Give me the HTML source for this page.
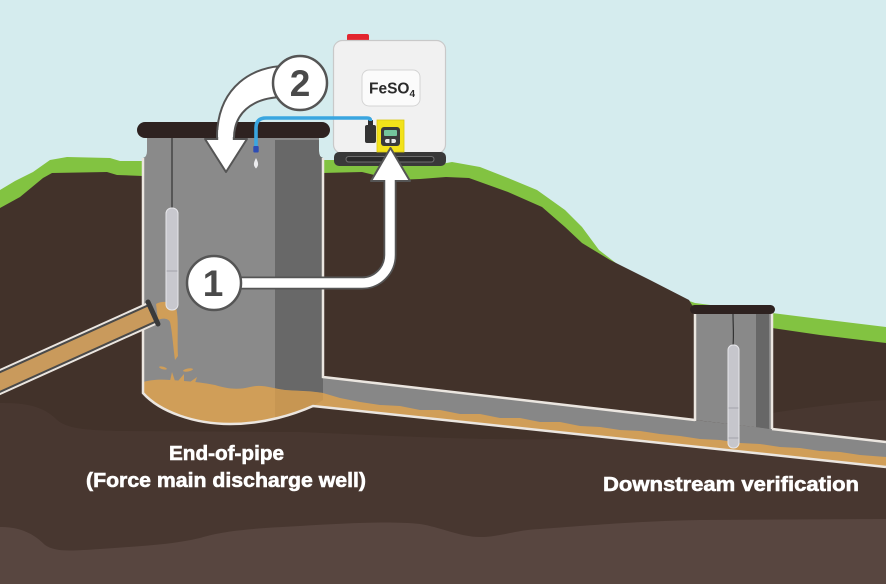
<!DOCTYPE html>
<html><head><meta charset="utf-8">
<style>
html,body{margin:0;padding:0;background:#d5ecee;}
svg{display:block;}
</style></head><body>
<svg width="886" height="584" viewBox="0 0 886 584" xmlns="http://www.w3.org/2000/svg">
<rect width="886" height="584" fill="#d5ecee"/>
<!-- grass -->
<polygon fill="#82c341" points="0,190 15,181 33,172 50,160 67,157 110,158 120,161 143,161 322,160 362,160 400,165 430,166 452,162 480,167 508,178 537,190 565,210 582,227 599,250 621,267 650,282 678,297 695,303 772,313 820,319 886,327 886,584 0,584"/>
<!-- soil -->
<polygon fill="#42322a" points="0,208 20,197 43,178 52,173 107,172 117,175 143,176 322,173 362,172 395,180 420,179 446,177 469,178 508,192 542,207 565,227 582,243 610,260 650,280 689,300 695,310 772,328 820,335 886,343 886,584 0,584"/>
<path fill="#483730" d="M0,403 C20,403 40,404 55,418 C65,428 80,430 120,431 L300,432 C400,436 500,442 600,438 C700,432 760,408 886,400 L886,584 L0,584Z"/>
<path fill="#584640" d="M0,527 C15,527 30,530 45,545 C55,552 70,551 100,549 C140,546 170,545 200,538 C220,532 240,529 300,526 C350,523 390,521 420,524 C440,527 460,537 480,537 C500,537 515,530 540,529 C580,526 640,521 700,520 L886,519 L886,584 L0,584Z"/>

<!-- outgoing sewer pipe -->
<polygon fill="#878787" points="322,377 886,442 886,467 313,406"/>

<!-- main well body -->
<path fill="#8a8a8a" d="M147,138 H319 V151 Q319,157 323,158 V400 L313,406 C295,414 265,424 230,424 C195,424 160,412 143,393 V158 Q147,157 147,151 Z"/>
<path fill="#686868" d="M275,140 H319 V151 Q319,157 323,158 V396 H275 Z"/>

<!-- downstream well body -->
<polygon fill="#898989" points="695,313 772,313 772,429 695,420"/>
<polygon fill="#676767" points="756,313 769,313 769,429 756,427"/>

<!-- sludge -->
<path fill="#d09e58" d="M143,382 C150,380 160,379 170,380 C185,381 200,382 215,385 C228,389 238,390 250,387 C262,384 270,388 285,390 C300,391 312,391 323,393 L340,398 L360,402 L380,405 L400,406 L420,410 L440,410 L460,414 L480,414 L500,418 L520,418 L540,422 L560,422 L580,426 L600,427 L620,430 L640,431 L660,434 L680,436 L700,439 L720,440 L740,443 L760,444 L780,447 L800,448 L820,451 L840,452 L860,455 L886,457 L886,467 L313,406 C295,414 265,424 230,424 C195,424 160,412 143,393 Z"/>
<path fill="#c08f4f" opacity="0.55" d="M275,389 C290,391 310,391 323,393 L323,400 L313,406 C300,412 288,416 275,419 Z"/>
<!-- splash -->
<ellipse cx="163" cy="368" rx="4" ry="1.3" fill="#d09e58" transform="rotate(15 163 368)"/>
<ellipse cx="188" cy="370" rx="5" ry="1.5" fill="#d09e58" transform="rotate(-10 188 370)"/>
<polygon fill="#d09e58" points="170,381 172,372 175,381"/>
<polygon fill="#d09e58" points="178,381 184,374 184,382"/>
<polygon fill="#d09e58" points="190,382 197,377 195,383"/>
<!-- falling stream -->
<path fill="#d09e58" d="M156,304 C163,300 172,302 176,308 C179,318 177,335 178,356 L175,360 C173,345 172,330 170,322 C168,318 162,318 158,320 Z"/>

<!-- white outlines -->
<g stroke="#ebe6e0" stroke-width="2.5" fill="none">
<path d="M143,158 V393 C160,412 195,424 230,424 C265,424 295,414 313,406 L886,467"/>
<path d="M323,158 V377 L695,420"/>
<path d="M772,429 L886,442"/>
<path d="M695,313 V421"/>
<path d="M772,313 V429"/>
</g>

<!-- probes -->
<line x1="172" y1="138" x2="172" y2="209" stroke="#333" stroke-width="1.2"/>
<rect x="166" y="208" width="12" height="102" rx="5.5" fill="#c8c8ce" stroke="#e6e6ea" stroke-width="1"/>
<line x1="166.5" y1="271" x2="177.5" y2="271" stroke="#a2a2aa" stroke-width="1"/>
<path d="M733,313 C733,325 734,335 733,346" stroke="#333" stroke-width="1.2" fill="none"/>
<rect x="728" y="345" width="11" height="103" rx="5" fill="#c6c6cc" stroke="#e6e6ea" stroke-width="1"/>
<line x1="728.5" y1="408" x2="738.5" y2="408" stroke="#a2a2aa" stroke-width="1"/>
<line x1="728.5" y1="438" x2="738.5" y2="438" stroke="#a2a2aa" stroke-width="1"/>

<!-- incoming pipe -->
<line x1="-20" y1="391" x2="153" y2="313" stroke="#ebe6e0" stroke-width="24"/>
<line x1="-20" y1="391" x2="153" y2="313" stroke="#4a4a4a" stroke-width="20"/>
<line x1="-20" y1="391" x2="153" y2="313" stroke="#c99a5c" stroke-width="16"/>
<line x1="148" y1="302" x2="158" y2="324" stroke="#3a3a3a" stroke-width="5" stroke-linecap="round"/>

<!-- lids -->
<rect x="137" y="122" width="193" height="16" rx="8" fill="#2e2220"/>
<rect x="690" y="305" width="85" height="9" rx="4.5" fill="#2e2220"/>

<!-- tank -->
<rect x="347" y="34" width="22" height="8" rx="2" fill="#e2262f"/>
<rect x="333.5" y="40.5" width="112" height="113" rx="9" fill="#f1f1f1" stroke="#c9c9c9" stroke-width="1.2"/>
<rect x="362" y="70" width="58" height="36" rx="7" fill="#fbfbfb" stroke="#d4d4d4" stroke-width="1"/>
<text x="369" y="93.5" font-family="Liberation Sans, sans-serif" font-weight="bold" font-size="15.5" fill="#2a2a2a">FeSO<tspan font-size="10" dy="3.5">4</tspan></text>
<!-- pallet -->
<rect x="334" y="152" width="112" height="14" rx="5" fill="#393939"/>
<rect x="346" y="156.5" width="88" height="5.5" rx="2.7" fill="#2b2b2b" stroke="#6e6e6e" stroke-width="1"/>
<!-- connector -->
<rect x="368" y="120" width="5" height="6" fill="#2e2e2e"/>
<rect x="365" y="125" width="11" height="18" rx="2" fill="#333"/>
<!-- pump -->
<rect x="377" y="120" width="27" height="32" fill="#f2e21a" stroke="#d8c810" stroke-width="0.8"/>
<rect x="381" y="127" width="19" height="19" rx="3" fill="#3a3a3a"/>
<rect x="384" y="130" width="13" height="6" rx="1" fill="#74c59c"/>
<rect x="385" y="139" width="11" height="4" rx="2" fill="#e8e8e8"/>
<rect x="389.5" y="138.5" width="2" height="5" fill="#3a3a3a"/>

<!-- blue tube -->
<path d="M370.5,121 V120.5 Q370.5,118 367,118 H266 Q256,118 256,128 V147" stroke="#3aa6e0" stroke-width="3.6" fill="none"/>
<rect x="253.3" y="146" width="5.4" height="6.5" rx="1" fill="#2d4db5"/>
<path d="M256,158 C258,162 259.5,165 256,168.5 C252.5,165 254,162 256,158 Z" fill="#ececee"/>

<!-- arrow 1 -->
<path d="M235,283 H362 A28,28 0 0 0 390,255 V181" fill="none" stroke="#555" stroke-width="13"/>
<polygon points="371,181 410,181 390.5,148" fill="#fff" stroke="#555" stroke-width="2" stroke-linejoin="round"/>
<path d="M235,283 H362 A28,28 0 0 0 390,255 V179" fill="none" stroke="#fff" stroke-width="9.5"/>
<circle cx="214" cy="283" r="27" fill="#fff" stroke="#555" stroke-width="2.5"/>
<text x="213" y="296" text-anchor="middle" font-family="Liberation Sans, sans-serif" font-weight="bold" font-size="37" fill="#4a4a4a">1</text>

<!-- arrow 2 -->
<path d="M285,66 C255,66 217,85 217,138 L234,138 C234,115 250,97 285,97 Z" fill="#fff" stroke="#555" stroke-width="2"/>
<polygon points="205,139 247,139 226,172" fill="#fff" stroke="#555" stroke-width="2" stroke-linejoin="round"/>
<rect x="218.2" y="130" width="14.6" height="10" fill="#fff"/>
<circle cx="300" cy="83" r="27" fill="#fff" stroke="#555" stroke-width="2.5"/>
<text x="300" y="96" text-anchor="middle" font-family="Liberation Sans, sans-serif" font-weight="bold" font-size="37" fill="#4a4a4a">2</text>

<!-- labels -->
<g font-family="Liberation Sans, sans-serif" font-weight="bold" font-size="20.5" fill="#ffffff" stroke="#ffffff" stroke-width="0.6">
<text x="169" y="460" textLength="115" lengthAdjust="spacingAndGlyphs">End-of-pipe</text>
<text x="86" y="487" textLength="280" lengthAdjust="spacingAndGlyphs">(Force main discharge well)</text>
<text x="603" y="491" textLength="256" lengthAdjust="spacingAndGlyphs">Downstream verification</text>
</g>
</svg>
</body></html>
